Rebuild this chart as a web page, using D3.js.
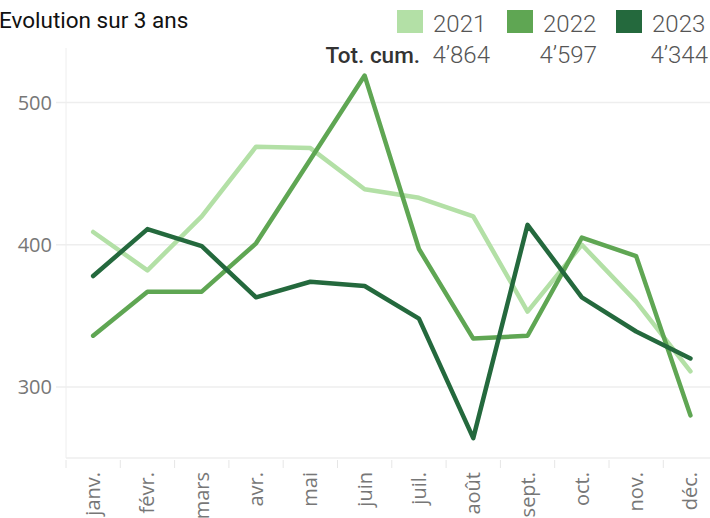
<!DOCTYPE html>
<html><head><meta charset="utf-8">
<script src="https://cdn.jsdelivr.net/npm/d3@7"></script>
<style>
html,body{margin:0;padding:0;background:#fff;overflow:hidden;}
svg{display:block;}
</style></head>
<body>
<script>
const months = ["janv.","févr.","mars","avr.","mai","juin","juil.","août","sept.","oct.","nov.","déc."];
const years = ["2021","2022","2023"];
const totals = ["4’864","4’597","4’344"];
const values2021 = [409,382,420,469,468,439,433,420,353,400,360,311];
const values2022 = [336,367,367,401,460,519,397,334,336,405,392,280];
const values2023 = [378,411,399,363,374,371,348,264,414,363,339,320];
const yTicks = [300,400,500];
const colors = ["#b3e0a6","#5fa653","#24693d"];

const W = 710, H = 518;
const svg = d3.select("body").append("svg").attr("width", W).attr("height", H);

const x = d3.scaleBand().domain(months).range([66, 717.6]);
const y = d3.scaleLinear().domain([250, 537]).range([458, 50]);

// gridlines
svg.append("g").selectAll("line").data(yTicks).join("line")
  .attr("x1", 56).attr("x2", W).attr("y1", d => y(d)).attr("y2", d => y(d))
  .attr("stroke", "#eeeeee").attr("stroke-width", 1.5);

// y axis line
svg.append("line").attr("x1", 66).attr("x2", 66).attr("y1", 48).attr("y2", 458)
  .attr("stroke", "#eeeeee").attr("stroke-width", 1);
// bottom line
svg.append("line").attr("x1", 66).attr("x2", W).attr("y1", 458).attr("y2", 458)
  .attr("stroke", "#eeeeee").attr("stroke-width", 1.5);

// y labels
const yAxis = d3.axisLeft(y).tickValues(yTicks).tickSize(0).tickPadding(14);
const gy = svg.append("g").attr("transform", "translate(66,0)").call(yAxis);
gy.select(".domain").remove();
gy.selectAll("text").attr("fill", "#777").style("font-family", "Open Sans").style("font-size", "20px");

// x band separators
svg.append("g").selectAll("line").data(months.concat(["end"])).join("line")
  .attr("x1", (d,i) => 66 + i * x.bandwidth()).attr("x2", (d,i) => 66 + i * x.bandwidth())
  .attr("y1", 460).attr("y2", 468).attr("stroke", "#e6e6e6").attr("stroke-width", 1);

// x labels
const xAxis = d3.axisBottom(x).tickSize(0).tickPadding(0);
const gx = svg.append("g").attr("transform", "translate(0,458)").call(xAxis);
gx.select(".domain").remove();
gx.selectAll("text")
  .attr("transform", "rotate(-90)")
  .attr("x", -14).attr("y", 0).attr("dy", "0.35em")
  .attr("text-anchor", "end")
  .attr("fill", "#777").style("font-family", "Open Sans").style("font-size", "20px");

// lines
const line = d3.line().x((d,i) => x(months[i]) + x.bandwidth()/2).y(d => y(d));
[values2021, values2022, values2023].forEach((vals, k) => {
  svg.append("path").datum(vals).attr("d", line)
    .attr("fill", "none").attr("stroke", colors[k]).attr("stroke-width", 4.5)
    .attr("stroke-linejoin", "round").attr("stroke-linecap", "round");
});

// title
svg.append("text").attr("x", -1).attr("y", 28).text("Evolution sur 3 ans")
  .attr("fill", "#111").style("font-family", "Roboto").style("font-size", "22.5px");

// legend
const legX = [397, 507, 616];
const g = svg.append("g");
years.forEach((yr, k) => {
  g.append("rect").attr("x", legX[k]).attr("y", 10).attr("width", 26).attr("height", 23).attr("fill", colors[k]);
  g.append("text").attr("x", legX[k] + 36).attr("y", 32).text(yr)
    .attr("fill", "#555").style("font-family", "Roboto").style("font-weight", "300").style("font-size", "24px");
});
g.append("text").attr("x", 420).attr("y", 63).attr("text-anchor", "end").text("Tot. cum.")
  .attr("fill", "#333").style("font-weight", "500").style("font-family", "Roboto").style("font-size", "22.5px");
const totX = [490, 597, 708];
totals.forEach((t, k) => {
  g.append("text").attr("x", totX[k]).attr("y", 63).attr("text-anchor", "end").text(t)
    .attr("fill", "#555").style("font-family", "Roboto").style("font-weight", "300").style("font-size", "24px");
});
</script>
</body></html>
